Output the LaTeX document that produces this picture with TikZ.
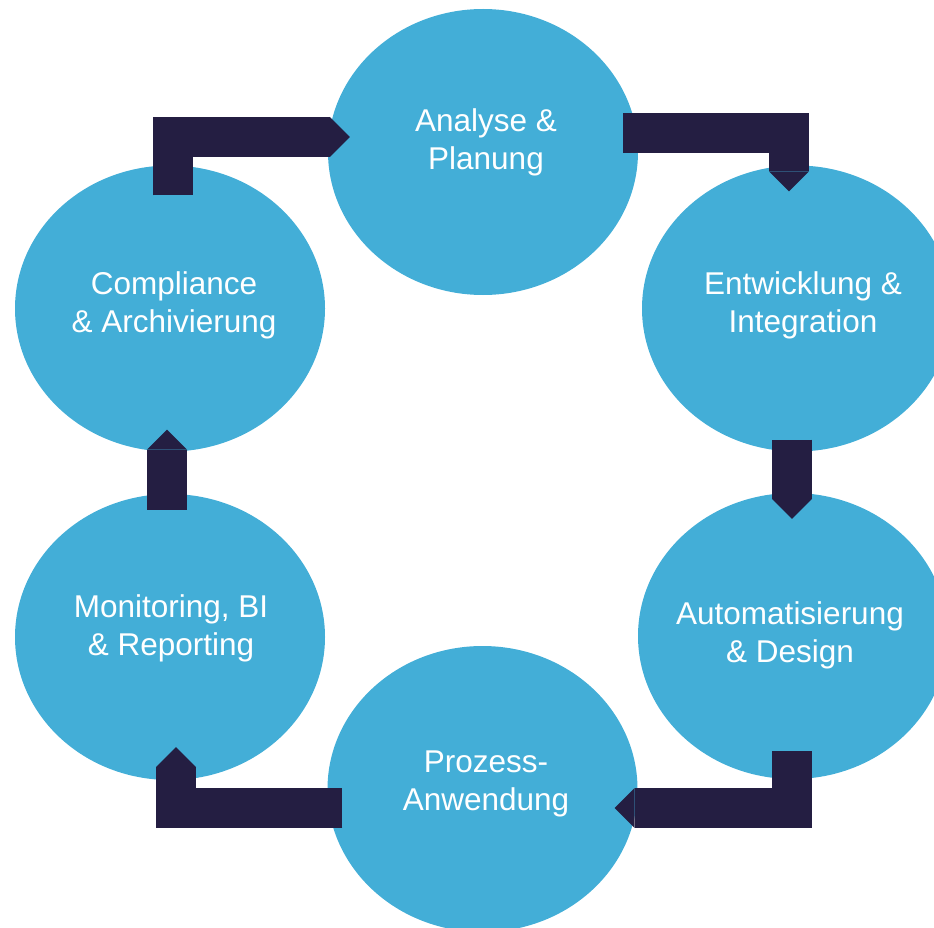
\documentclass[tikz,border=0pt]{standalone}
\usepackage{fontspec}
\setmainfont{Liberation Sans}
\usetikzlibrary{shapes.geometric,arrows.meta,calc}

\definecolor{phaseblue}{HTML}{43AED7}
\definecolor{flowdark}{HTML}{241E42}

\tikzset{
  phase/.style={ellipse, fill=phaseblue, minimum width=310pt, minimum height=286pt, inner sep=0pt},
  phasetext/.style={text=white, align=center, inner sep=0pt, font=\fontsize{31.5}{38}\selectfont},
  flow/.style={draw=flowdark, line width=40pt, -{Triangle[length=20pt, width=0pt 1, line width=0pt]}}
}

\begin{document}
\begin{tikzpicture}[x=1pt, y=-1pt]
			\useasboundingbox (0,0) rectangle (934,928);
			
			\node[phase] (analyse) at (483,152) {};
			\node[phase] (entwicklung) at (797,308.5) {};
			\node[phase] (automatisierung) at (793,636) {};
			\node[phase] (prozess) at (482.5,789) {};
			\node[phase] (monitoring) at (170,637) {};
			\node[phase] (compliance) at (170,308.5) {};
			
			\node[phasetext] (analyse-t) at ($(analyse)+(3,-10)$) {Analyse \&\\Planung};
			\node[phasetext] (entwicklung-t) at ($(entwicklung)+(6,-3.5)$) {Entwicklung \&\\Integration};
			\node[phasetext] (automatisierung-t) at ($(automatisierung)+(-3,-1)$) {Automatisierung\\\& Design};
			\node[phasetext] (prozess-t) at ($(prozess)+(3.5,-5)$) {Prozess-\\Anwendung};
			\node[phasetext] (monitoring-t) at ($(monitoring)+(1,-9)$) {Monitoring, BI\\\& Reporting};
			\node[phasetext] (compliance-t) at ($(compliance)+(4,-3.5)$) {Compliance\\\& Archivierung};
			
			\draw[flow] ($(compliance.north)+(3,30)$) |- ($(analyse.west)+(22,-15)$);
			\draw[flow] ($(analyse.east)+(-15,-19)$) -| ($(entwicklung.north)+(-8,26)$);
			\draw[flow] ($(entwicklung.south)+(-5,-12)$) -- ($(automatisierung.north)+(-1,26)$);
			\draw[flow] ($(automatisierung.south)+(-1,-28)$) |- ($(prozess.east)+(-23,19)$);
			\draw[flow] ($(prozess.west)+(15,19)$) -| ($(monitoring.south)+(6,-33)$);
			\draw[flow] ($(monitoring.north)+(-3,16)$) -- ($(compliance.south)+(-3,-22)$);
			
\end{tikzpicture}
\end{document}
